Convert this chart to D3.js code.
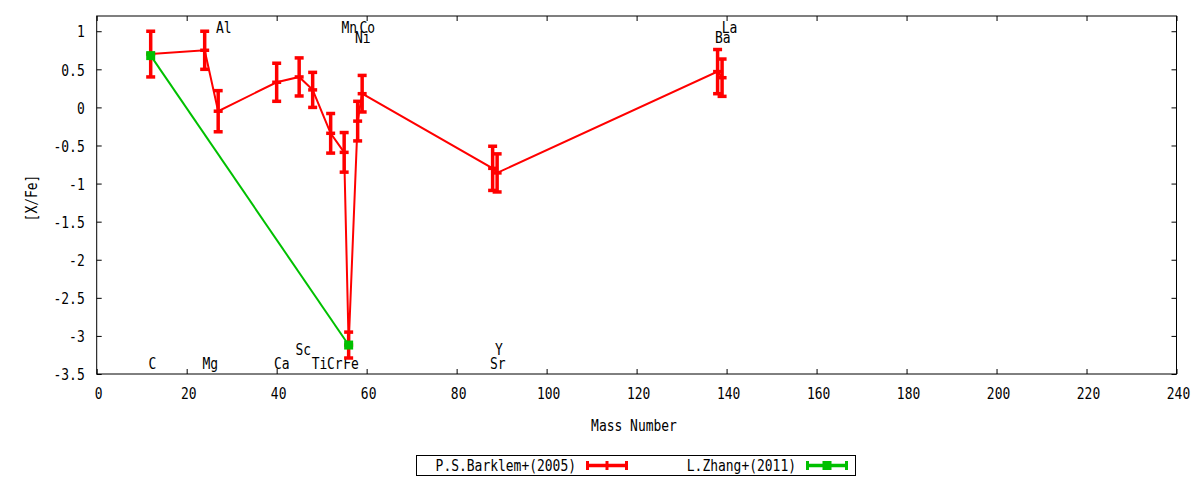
<!DOCTYPE html>
<html>
<head>
<meta charset="utf-8">
<script src="https://cdn.jsdelivr.net/npm/d3@7"></script>
<style>
  body { margin: 0; background: #fff; }
  svg text { font-family: "DejaVu Sans Mono", monospace; font-size: 16px; fill: #000; }
</style>
</head>
<body>
<svg id="chart" width="1200" height="480"></svg>
<script>
// Elements, sorted by mass number (as plotted)
const elements     = ["C", "Mg", "Al", "Ca", "Sc", "Ti", "Cr", "Mn", "Fe", "Ni", "Co", "Sr", "Y", "Ba", "La"];
const massNumbers  = [12, 24, 27, 40, 45, 48, 52, 55, 56, 58, 59, 88, 89, 138, 139];
const barklemValues = [0.70, 0.75, -0.05, 0.33, 0.40, 0.23, -0.34, -0.59, -3.12, -0.18, 0.18, -0.80, -0.86, 0.47, 0.39];
const barklemErrors = [0.30, 0.25, 0.27, 0.25, 0.25, 0.23, 0.26, 0.26, 0.17, 0.26, 0.24, 0.29, 0.25, 0.29, 0.245];
// where each element name starts (mass axis) and sits (in [X/Fe] units)
const labelMass    = [11.5, 23.5, 26.5, 39.4, 44.2, 47.8, 51.2, 54.4, 54.8, 57.4, 58.4, 87.4, 88.5, 137.4, 138.9];
const labelLevels  = [-3.36, -3.36, 1.05, -3.36, -3.17, -3.36, -3.36, 1.05, -3.36, 0.92, 1.05, -3.36, -3.17, 0.92, 1.05];

const zhangMass   = [12, 56];
const zhangValues = [0.68, -3.12];

const xTicks = [0, 20, 40, 60, 80, 100, 120, 140, 160, 180, 200, 220, 240];
const yTicks = [1, 0.5, 0, -0.5, -1, -1.5, -2, -2.5, -3, -3.5];

const seriesNames = ["P.S.Barklem+(2005)", "L.Zhang+(2011)"];

const RED = "#ff0000";
const GREEN = "#00c000";
const CHAR_W = 7.8;

const svg = d3.select("#chart");

const plotLeft = 96.7, plotRight = 1176.5, plotTop = 16, plotBottom = 374;

const x = d3.scaleLinear().domain([0, 240]).range([plotLeft, plotRight]);
const y = d3.scaleLinear().domain([-3.5, 1.2]).range([plotBottom, plotTop]);

// narrow the mono font like the gnuplot one
function squeeze(sel) {
    sel.each(function () {
        const t = d3.select(this);
        const n = this.textContent.length;
        t.attr("textLength", n * CHAR_W).attr("lengthAdjust", "spacingAndGlyphs");
    });
}

// axes, ticks pointing inward, mirrored on top/right
const gx = svg.append("g").attr("transform", `translate(0,${plotBottom})`)
    .call(d3.axisBottom(x).tickValues(xTicks).tickSizeInner(-5).tickSizeOuter(0).tickFormat(d => String(d)));
gx.selectAll("text").attr("y", 19).attr("dy", "0.36em").attr("x", 1.5);

svg.append("g").attr("transform", `translate(0,${plotTop})`)
    .call(d3.axisTop(x).tickValues(xTicks).tickSizeInner(-5).tickSizeOuter(0).tickFormat(""));

const gy = svg.append("g").attr("transform", `translate(${plotLeft},0)`)
    .call(d3.axisLeft(y).tickValues(yTicks).tickSizeInner(-5).tickSizeOuter(0).tickFormat(d => String(d)));
gy.selectAll("text").attr("x", -12).attr("dy", "0.36em");

svg.append("g").attr("transform", `translate(${plotRight},0)`)
    .call(d3.axisRight(y).tickValues(yTicks).tickSizeInner(-5).tickSizeOuter(0).tickFormat(""));

svg.selectAll(".domain").remove();
svg.selectAll(".tick line").attr("stroke", "#000");
svg.selectAll(".tick text").style("font-family", "DejaVu Sans Mono").style("font-size", "16px").call(squeeze);

svg.append("rect")
    .attr("x", plotLeft).attr("y", plotTop)
    .attr("width", plotRight - plotLeft).attr("height", plotBottom - plotTop)
    .attr("fill", "none").attr("stroke", "#000").attr("stroke-width", 1);

// axis titles
svg.append("text")
    .attr("x", 634).attr("y", 425).attr("dy", "0.36em")
    .attr("text-anchor", "middle").text("Mass Number").call(squeeze);

svg.append("text")
    .attr("transform", "translate(31,198) rotate(-90)")
    .attr("dy", "0.36em").attr("text-anchor", "middle").text("[X/Fe]").call(squeeze);

// element names
svg.append("g").selectAll("text")
    .data(elements)
    .join("text")
    .attr("x", (d, i) => x(labelMass[i]))
    .attr("y", (d, i) => y(labelLevels[i]))
    .attr("dy", "0.36em")
    .attr("text-anchor", "start")
    .text(d => d)
    .call(squeeze);

// Barklem series
const barklem = massNumbers.map((m, i) => ({ m: m, v: barklemValues[i], e: barklemErrors[i] }));

const line = d3.line().x(d => x(d.m)).y(d => y(d.v));

const gR = svg.append("g");
gR.append("path")
    .datum(barklem)
    .attr("d", line)
    .attr("fill", "none").attr("stroke", RED).attr("stroke-width", 2);

gR.selectAll("line.bar")
    .data(barklem)
    .join("line")
    .attr("class", "bar")
    .attr("x1", d => x(d.m)).attr("x2", d => x(d.m))
    .attr("y1", d => y(d.v + d.e)).attr("y2", d => y(d.v - d.e))
    .attr("stroke", RED).attr("stroke-width", 3.5);

const caps = barklem.flatMap(d => [{ m: d.m, v: d.v + d.e }, { m: d.m, v: d.v - d.e }, { m: d.m, v: d.v }]);
gR.selectAll("line.cap")
    .data(caps)
    .join("line")
    .attr("class", "cap")
    .attr("x1", d => x(d.m) - 4.5).attr("x2", d => x(d.m) + 4.5)
    .attr("y1", d => y(d.v)).attr("y2", d => y(d.v))
    .attr("stroke", RED).attr("stroke-width", 3.5);

// Zhang series
const zhang = zhangMass.map((m, i) => ({ m: m, v: zhangValues[i] }));
const gG = svg.append("g");
gG.append("path")
    .datum(zhang)
    .attr("d", line)
    .attr("fill", "none").attr("stroke", GREEN).attr("stroke-width", 2);

gG.selectAll("rect")
    .data(zhang)
    .join("rect")
    .attr("x", d => x(d.m) - 4.5).attr("y", d => y(d.v) - 4.5)
    .attr("width", 9).attr("height", 9)
    .attr("fill", GREEN);

// legend
const legend = svg.append("g");
legend.append("rect")
    .attr("x", 416.5).attr("y", 455.5).attr("width", 439).attr("height", 20)
    .attr("fill", "none").attr("stroke", "#000").attr("stroke-width", 1);

const keyItems = [
    { name: seriesNames[0], color: RED, textEnd: 576, x0: 586, x1: 628, mark: "tick" },
    { name: seriesNames[1], color: GREEN, textEnd: 796, x0: 806, x1: 848, mark: "square" }
];
const ky = 465.5;
keyItems.forEach(k => {
    legend.append("text")
        .attr("x", k.textEnd).attr("y", ky).attr("dy", "0.36em")
        .attr("text-anchor", "end").text(k.name).call(squeeze);
    legend.append("line")
        .attr("x1", k.x0).attr("x2", k.x1).attr("y1", ky).attr("y2", ky)
        .attr("stroke", k.color).attr("stroke-width", 3.5);
    [k.x0 + 1.5, k.x1 - 1.5].forEach(cx => {
        legend.append("line")
            .attr("x1", cx).attr("x2", cx).attr("y1", ky - 4.5).attr("y2", ky + 4.5)
            .attr("stroke", k.color).attr("stroke-width", 3);
    });
    const cx = (k.x0 + k.x1) / 2;
    if (k.mark === "tick") {
        legend.append("line")
            .attr("x1", cx).attr("x2", cx).attr("y1", ky - 4.5).attr("y2", ky + 4.5)
            .attr("stroke", k.color).attr("stroke-width", 3);
    } else {
        legend.append("rect")
            .attr("x", cx - 4.5).attr("y", ky - 4.5).attr("width", 9).attr("height", 9)
            .attr("fill", k.color);
    }
});
</script>
</body>
</html>
